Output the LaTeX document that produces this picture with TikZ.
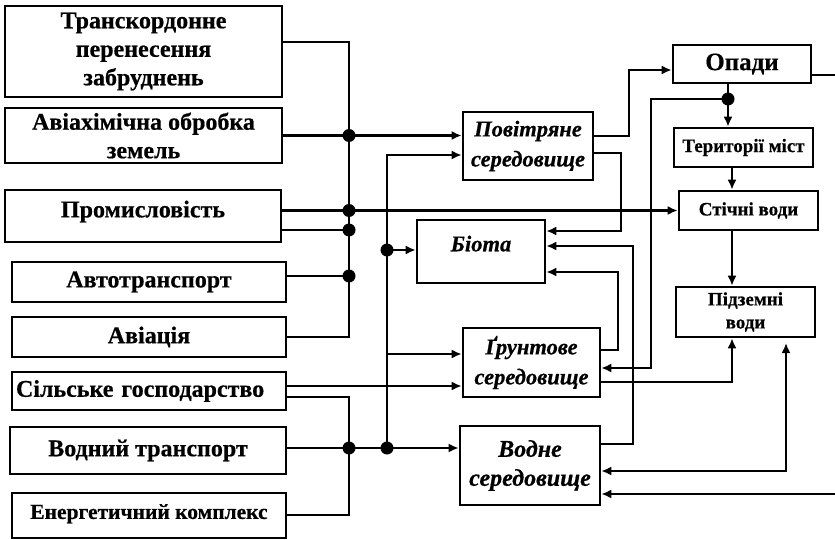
\documentclass[tikz,border=0pt]{standalone}
\usepackage{fontspec}
\setmainfont{Liberation Serif}[BoldFeatures={FakeBold=0.6}, BoldItalicFeatures={FakeBold=0.6}]
\usetikzlibrary{arrows.meta}

\tikzset{
  box/.style={draw, line width=2.6pt, rectangle, inner sep=2pt, align=center, text=black},
  srcbox/.style={box, font=\fontsize{24}{28.5}\selectfont\bfseries},
  envbox/.style={box, font=\fontsize{22.5}{30}\selectfont\bfseries\itshape},
  waterbox/.style={box, font=\fontsize{19}{23}\selectfont\bfseries},
  link/.style={line width=2.2pt},
  arr/.style={link, -{Latex[length=10pt,width=9pt]}},
  biarr/.style={link, {Latex[length=10pt,width=9pt]}-{Latex[length=10pt,width=9pt]}},
  junction/.style={circle, fill=black, inner sep=0pt, minimum size=13pt}
}

\begin{document}
\begin{tikzpicture}[x=1pt, y=-1pt]
\useasboundingbox (0,0) rectangle (835,540);

% --- sources of pollution (left column)
\node[srcbox, minimum width=277pt, minimum height=91pt] (tr) at (143.5,51.5)
  {Транскордонне\\перенесення\\забруднень};
\node[srcbox, minimum width=277pt, minimum height=55pt] (aviach) at (143.5,135.5)
  {Авіахімічна обробка\\земель};
\node[srcbox, minimum width=276pt, minimum height=52pt, text depth=14pt] (prom) at (143,216)
  {Промисловість};
\node[srcbox, minimum width=274pt, minimum height=40pt] (avto) at (149,282)
  {Автотранспорт};
\node[srcbox, minimum width=274pt, minimum height=40pt] (avia) at (149,337)
  {Авіація};
\node[srcbox, minimum width=274pt, minimum height=38pt, text width=266pt, align=left] (silsk) at (149,391)
  {Сільське господарство};
\node[srcbox, minimum width=276pt, minimum height=47pt] (vodtr) at (148,450.5)
  {Водний транспорт};
\node[srcbox, font=\fontsize{21.5}{26}\selectfont\bfseries, minimum width=274pt, minimum height=45pt, text depth=8pt] (energ) at (149,515.5)
  {Енергетичний комплекс};

% --- environments (middle column)
\node[envbox, minimum width=130pt, minimum height=68pt] (pov) at (528,146)
  {Повітряне\\середовище};
\node[envbox, minimum width=128pt, minimum height=63pt, text depth=16pt] (biota) at (481,251.5)
  {Біота};
\node[envbox, minimum width=137pt, minimum height=69pt] (grunt) at (531.5,362.5)
  {Ґрунтове\\середовище};
\node[envbox, font=\fontsize{24}{29}\selectfont\bfseries\itshape, minimum width=140pt, minimum height=79pt] (vodne) at (530,465.5)
  {Водне\\середовище};

% --- water cycle (right column)
\node[box, font=\fontsize{25}{28}\selectfont\bfseries, minimum width=138pt, minimum height=38pt] (opadi) at (742,64)
  {Опади};
\node[waterbox, minimum width=139pt, minimum height=39pt] (ter) at (743.5,147.5)
  {Території міст};
\node[waterbox, minimum width=139pt, minimum height=39pt] (stich) at (748.5,210.5)
  {Стічні води};
\node[waterbox, minimum width=139pt, minimum height=50pt] (pidz) at (745.5,312)
  {Підземні\\води};

% --- junction points
\coordinate (jA1) at (349,135.5);
\coordinate (jA2) at (349,210.5);
\coordinate (jA3) at (349,230);
\coordinate (jA4) at (349,276);
\coordinate (jB1) at (387,250);
\coordinate (jC1) at (349,448);
\coordinate (jC2) at (387,448);
\coordinate (jO) at (728,99);
\coordinate (edgeTop) at (835,75);
\coordinate (edgeBot) at (835,494);

% --- upper collector of the sources
\draw[link] (tr.east |- 0,42) -- (349,42) -- (349,337) -- (avia.east);
\draw[arr] (aviach.east) -- (pov.west |- aviach.east);
\draw[arr] (prom.east |- stich.west) -- (stich.west);
\draw[link] (prom.east |- jA3) -- (jA3);
\draw[link] (avto.east |- jA4) -- (jA4);

% --- lower collector of the sources
\draw[link] (silsk.east |- 0,397) -- (349,397) -- (349,515) -- (energ.east |- 0,515);
\draw[arr] (silsk.east |- 0,386) -- (grunt.west |- 0,386);
\draw[arr] (vodtr.east |- jC1) -- (vodne.west |- jC1);
\draw[arr] (jC2) -- (387,155) -- (pov.west |- 0,155);
\draw[arr] (jB1) -- (biota.west |- jB1);
\draw[arr] (387,354) -- (grunt.west |- 0,354);

% --- links between environments
\draw[arr] (pov.east |- 0,136) -- (629,136) -- (629,70) -- (opadi.west |- 0,70);
\draw[arr] (pov.east |- 0,153) -- (621,153) -- (621,231) -- (biota.east |- 0,231);
\draw[arr] (grunt.east |- 0,350) -- (618,350) -- (618,272) -- (biota.east |- 0,272);
\draw[arr] (vodne.east |- 0,444) -- (633,444) -- (633,246) -- (biota.east |- 0,246);

% --- water cycle
\draw[link] (opadi.east |- edgeTop) -- (edgeTop);
\draw[arr] (opadi.south -| jO) -- (ter.north -| jO);
\draw[arr] (jO) -- (651,99) -- (651,368) -- (grunt.east |- 0,368);
\draw[arr] (ter.south -| 732,0) -- (stich.north -| 732,0);
\draw[arr] (stich.south -| 732,0) -- (pidz.north -| 732,0);
\draw[arr] (grunt.east |- 0,382) -- (732,382) -- (pidz.south -| 732,0);
\draw[biarr] (vodne.east |- 0,471) -- (786,471) -- (786,343);
\draw[arr] (edgeBot) -- (vodne.east |- edgeBot);

% --- junction dots
\foreach \j in {jA1,jA2,jA3,jA4,jB1,jC1,jC2,jO}
  \node[junction] at (\j) {};
\end{tikzpicture}
\end{document}
